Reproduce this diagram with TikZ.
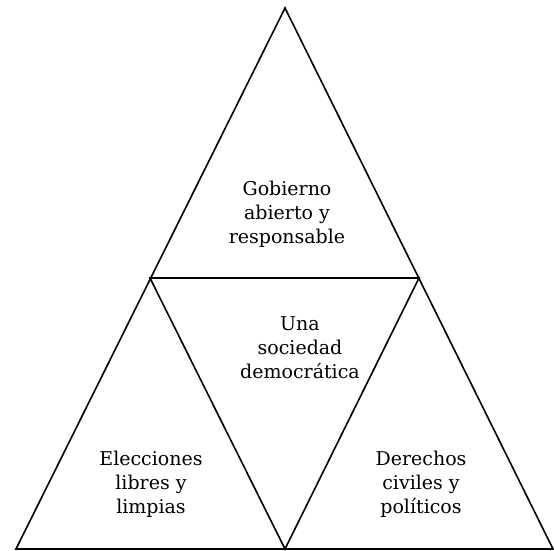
\documentclass[tikz,border=0pt]{standalone}
\usepackage{fontspec}
\setmainfont{DejaVu Serif}
\usetikzlibrary{positioning}

\begin{document}
\begin{tikzpicture}[
  x=1pt, y=1pt,
  edge/.style={draw, line width=1.6pt, line join=miter},
  lbl/.style={align=center, font=\fontsize{19}{24}\selectfont, inner sep=0pt}
]
\useasboundingbox (0,0) rectangle (554,551);

% corners of the big triangle
\coordinate (top) at (285,543);
\coordinate (bl) at (16,2);
\coordinate (br) at (553,2);
% midpoints
\coordinate (ml) at (150,273);
\coordinate (mr) at (419,273);
\coordinate (mb) at (285,2);

% outline and inner triangle
\draw[edge] (bl) -- (top) -- (br) -- cycle;
\draw[edge] (ml) -- (mr) -- (mb) -- cycle;

% labels
\node[lbl] (gob) at (287,337) {Gobierno\\abierto y\\responsable};
\node[lbl] (soc) at (300,203) {Una\\sociedad\\democrática};
\node[lbl] (elec) at (151,67) {Elecciones\\libres y\\limpias};
\node[lbl] (der) at (421,67) {Derechos\\civiles y\\políticos};

\end{tikzpicture}
\end{document}
